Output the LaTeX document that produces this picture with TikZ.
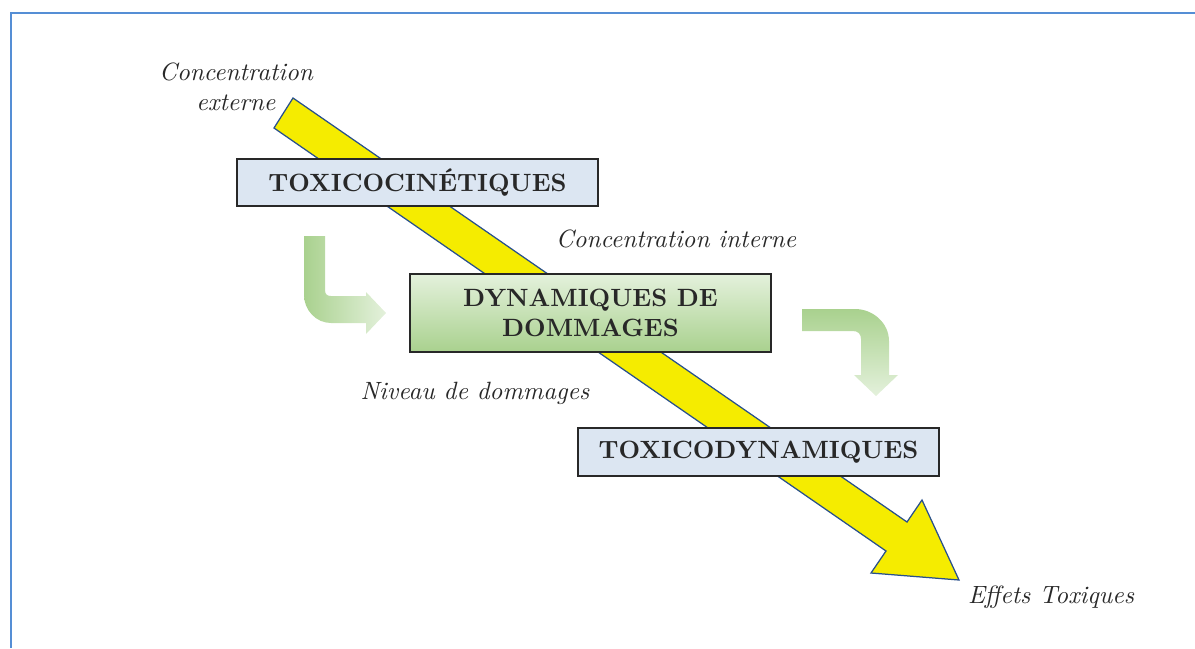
\documentclass[tikz,border=0pt]{standalone}
\usepackage{fontspec}
\definecolor{framebl}{RGB}{85,142,213}
\definecolor{yel}{RGB}{245,236,0}
\definecolor{yedge}{RGB}{40,80,140}
\definecolor{boxbl}{RGB}{220,230,242}
\definecolor{gdark}{RGB}{169,209,142}
\definecolor{glight}{RGB}{228,241,220}
\definecolor{txt}{RGB}{40,40,40}
\tikzset{
  boxbase/.style={draw=txt, line width=0.5pt, inner sep=0pt, font=\bfseries, text=txt, align=center, minimum width=144.4pt},
  bluebox/.style={boxbase, fill=boxbl},
  greenbox/.style={boxbase, top color=glight, bottom color=gdark},
  lbl/.style={font=\itshape, text=txt, inner sep=0pt},
  yarrow/.style={fill=yel, draw=yedge, line width=0.5pt, line join=miter},
}
\begin{document}
\begin{tikzpicture}[x=0.4pt, y=-0.4pt]
\useasboundingbox (0,0) rectangle (1195,648);
% frame
\draw[framebl, line width=0.8pt] (10.5,648) -- (10.5,12.5) -- (1195,12.5);
% yellow arrow
\coordinate (ytailA) at (293,98);
\coordinate (ynotchA) at (907,522);
\coordinate (ybarbA) at (922,500);
\coordinate (ytip) at (959,580);
\coordinate (ybarbB) at (871,573);
\coordinate (ynotchB) at (886,551);
\coordinate (ytailB) at (274,128);
\draw[yarrow] (ytailA) -- (ynotchA) -- (ybarbA) -- (ytip) -- (ybarbB) -- (ynotchB) -- (ytailB) -- cycle;
% boxes
\node[bluebox, minimum height=18.8pt] (tk) at (417.5,182.5) {TOXICOCINÉTIQUES};
\node[greenbox, minimum height=31.2pt] (dd) at (590.5,313) {DYNAMIQUES DE\\DOMMAGES};
\node[bluebox, minimum height=19.2pt] (td) at (758.5,452) {TOXICODYNAMIQUES};
% green bent arrows
\shade[left color=gdark, right color=glight]
  (304,236) -- (325,236) -- (325,290) .. controls (325,294) and (327,296) .. (331,296)
  -- (366,296) -- (366,292) -- (386,313) -- (366,334) -- (366,323) -- (331,323)
  .. controls (316,323) and (304,310) .. (304,295) -- cycle;
\shade[top color=gdark, bottom color=glight]
  (802,309) -- (855,309) .. controls (873,309) and (889,323) .. (889,341)
  -- (889,375) -- (898,375) -- (876,396) -- (854,375) -- (861,375) -- (861,339)
  .. controls (861,334) and (858,331) .. (853,331) -- (802,331) -- cycle;
% labels
\node[lbl, align=center] (cext) at (236,87) {Concentration\\externe};
\node[lbl, anchor=base] (cint) at (676,247) {Concentration interne};
\node[lbl, anchor=base] (niv) at (475,399) {Niveau de dommages};
\node[lbl, anchor=base] (eff) at (1051,603) {Effets Toxiques};
\end{tikzpicture}
\end{document}
